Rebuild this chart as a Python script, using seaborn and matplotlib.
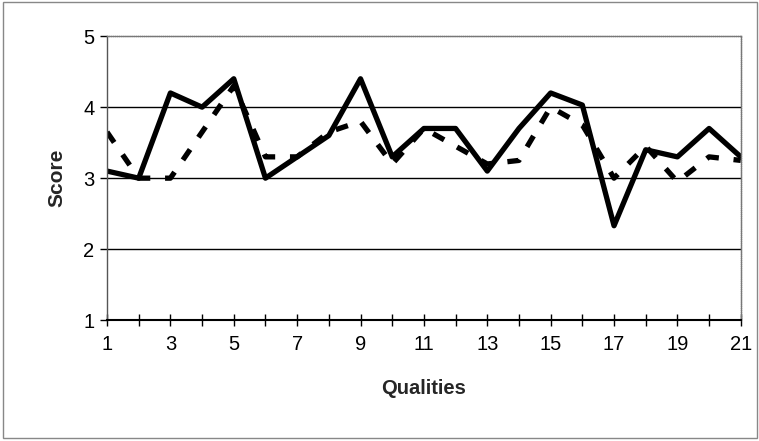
import seaborn as sns
import pandas as pd
import matplotlib.pyplot as plt
from matplotlib.patches import Rectangle

qualities = list(range(1, 22))
score_solid = [3.1, 3.0, 4.2, 4.0, 4.4, 3.0, 3.3, 3.6, 4.4, 3.3, 3.7,
               3.7, 3.1, 3.7, 4.2, 4.03, 2.33, 3.4, 3.3, 3.7, 3.3]
score_dashed = [3.65, 3.0, 3.0, 3.65, 4.3, 3.3, 3.3, 3.65, 3.8, 3.2, 3.7,
                3.45, 3.2, 3.25, 4.0, 3.75, 3.0, 3.45, 2.95, 3.3, 3.25]

df = pd.concat([
    pd.DataFrame({"Qualities": qualities, "Score": score_solid, "series": "A"}),
    pd.DataFrame({"Qualities": qualities, "Score": score_dashed, "series": "B"}),
])

sns.set_theme(style="white")
plt.rcParams['font.family'] = ['Liberation Sans', 'DejaVu Sans']

fig = plt.figure(figsize=(7.59, 4.41), dpi=100)
ax = fig.add_axes([0.141, 0.274, 0.835, 0.644])

sns.lineplot(data=df, x="Qualities", y="Score", style="series",
             dashes={"A": "", "B": (2.4, 2.8)}, color="black",
             linewidth=3.8, legend=False, ax=ax)

ax.set_xlim(1, 21)
ax.set_ylim(1, 5)
ax.set_yticks([1, 2, 3, 4, 5])
ax.set_xticks(qualities)
ax.set_xticklabels([str(q) if q % 2 == 1 else "" for q in qualities])
for y in [2, 3, 4]:
    ax.axhline(y, color="black", linewidth=1, zorder=0)

for side in ["top", "right"]:
    ax.spines[side].set_color("#777777")
    ax.spines[side].set_linestyle((0, (1, 0.5)))
    ax.spines[side].set_linewidth(1)
ax.spines["left"].set_color("#555555")
ax.spines["left"].set_linewidth(1)
ax.spines["bottom"].set_color("black")
ax.spines["bottom"].set_linewidth(1.5)

ax.tick_params(axis="x", direction="inout", length=8, width=1, colors="black",
               labelsize=14.5, pad=7, bottom=True)
ax.tick_params(axis="y", direction="out", length=5, width=1, colors="black",
               labelsize=14.5, pad=4, left=True)

ax.set_xlabel("Qualities", fontsize=14.5, fontweight="bold", labelpad=18)
ax.set_ylabel("Score", fontsize=15, fontweight="bold", labelpad=12)

fig.patches.append(Rectangle((0.004, 0.006), 0.994, 0.99, transform=fig.transFigure,
                             fill=False, edgecolor="#888888", linewidth=1))

fig.savefig("out.png", dpi=100)
